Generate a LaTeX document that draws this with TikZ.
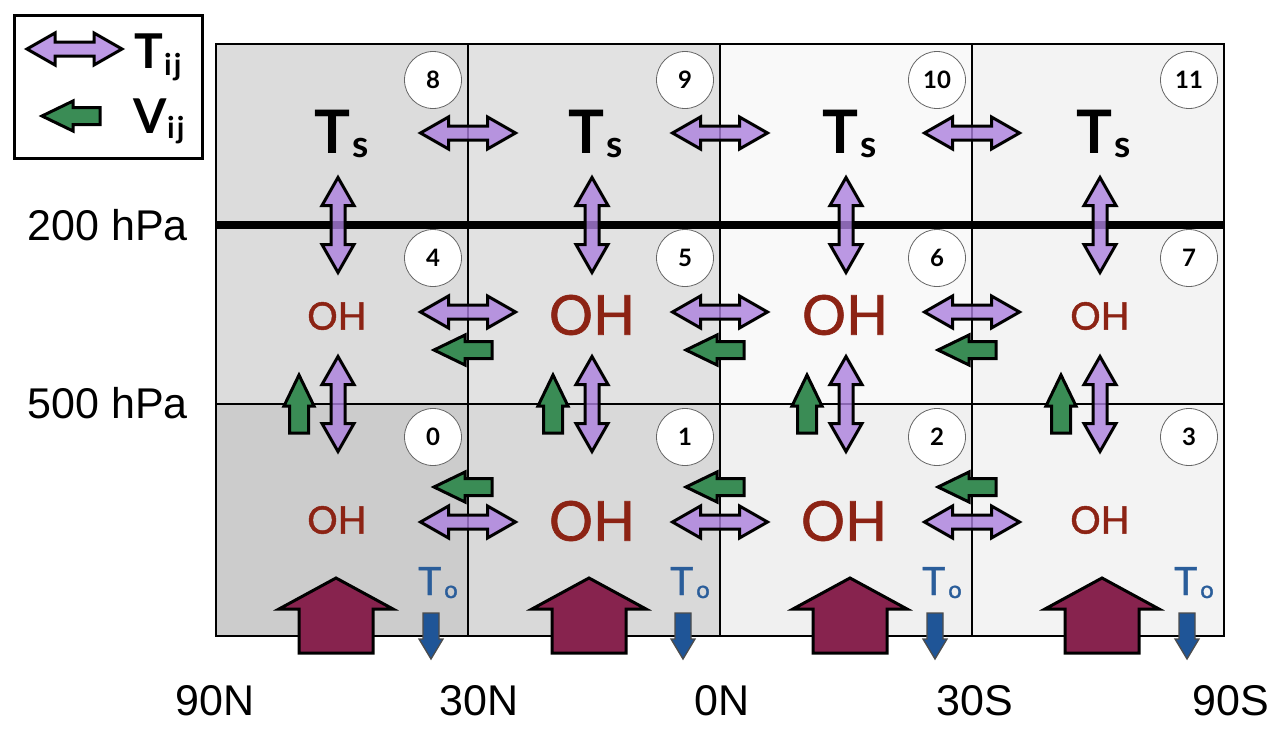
\documentclass[tikz,border=0pt]{standalone}
\usepackage{fontspec}
\setmainfont{Liberation Sans}
\newfontfamily\gill{Lato}
\newfontfamily\gillmed[FakeBold=1.2]{Lato}
\definecolor{purpfill}{RGB}{172,128,222}
\definecolor{grnfill}{RGB}{58,140,85}
\definecolor{marfill}{RGB}{135,35,78}
\definecolor{bluefill}{RGB}{31,85,151}
\definecolor{ohred}{RGB}{140,35,20}
\definecolor{toblue}{RGB}{42,93,154}
\definecolor{c0a}{RGB}{220,220,220}
\definecolor{c0c}{RGB}{204,204,204}
\definecolor{c1a}{RGB}{226,226,226}
\definecolor{c1c}{RGB}{217,217,217}
\definecolor{c2a}{RGB}{249,249,249}
\definecolor{c2c}{RGB}{240,240,240}
\definecolor{c3a}{RGB}{243,243,243}
\tikzset{
  arr/.style={draw=black, line width=3pt, line join=miter},
  purp/.style={arr, fill=purpfill, fill opacity=0.8},
  grn/.style={arr, fill=grnfill},
  mar/.style={arr, fill=marfill},
  blu/.style={draw=black!70, line width=1.3pt, fill=bluefill},
  hdbl/.pic={\path[purp] (-47.5,0) -- (-19.5,-16) -- (-19.5,-7) -- (19.5,-7) -- (19.5,-16) -- (47.5,0) -- (19.5,16) -- (19.5,7) -- (-19.5,7) -- (-19.5,16) -- cycle;},
  vdbl/.pic={\path[purp] (0,-47.5) -- (-16,-19.5) -- (-7,-19.5) -- (-7,19.5) -- (-16,19.5) -- (0,47.5) -- (16,19.5) -- (7,19.5) -- (7,-19.5) -- (16,-19.5) -- cycle;},
  gleft/.pic={\path[grn] (0,0) -- (31,-15) -- (31,-8.5) -- (58,-8.5) -- (58,8.5) -- (31,8.5) -- (31,15) -- cycle;},
  gup/.pic={\path[grn] (0,0) -- (15,31) -- (9.5,31) -- (9.5,58) -- (-9.5,58) -- (-9.5,31) -- (-15,31) -- cycle;},
  mup/.pic={\path[mar] (0,0) -- (57,31) -- (37,31) -- (37,75) -- (-37,75) -- (-37,31) -- (-57,31) -- cycle;},
  bdown/.pic={\path[blu] (-8,0) -- (8,0) -- (8,26) -- (12,26) -- (0,46) -- (-12,26) -- (-8,26) -- cycle;},
  numc/.style={circle, draw=black!60, line width=0.8pt, fill=white, minimum size=57pt, inner sep=0pt,
    font=\gill\bfseries\fontsize{24}{24}\selectfont},
  bigT/.style={anchor=base west, inner sep=0pt, font=\gill\bfseries\fontsize{60}{60}\selectfont},
  subs/.style={anchor=base west, inner sep=0pt, font=\gill\bfseries\fontsize{37}{37}\selectfont},
  ohs/.style={inner sep=0pt, text=ohred, font=\gillmed\fontsize{38}{38}\selectfont},
  ohl/.style={inner sep=0pt, text=ohred, font=\gillmed\fontsize{55}{55}\selectfont},
  toT/.style={anchor=base west, inner sep=0pt, text=toblue, font=\gillmed\fontsize{39}{39}\selectfont},
  too/.style={anchor=base west, inner sep=0pt, text=toblue, font=\gillmed\fontsize{24}{24}\selectfont},
  axlab/.style={inner sep=0pt, font=\fontsize{43}{43}\selectfont},
  leglab/.style={anchor=base west, inner sep=0pt, font=\gill\bfseries\fontsize{48}{48}\selectfont},
  legsub/.style={anchor=base west, inner sep=0pt, font=\gill\bfseries\fontsize{30}{30}\selectfont},
}
\begin{document}
\begin{tikzpicture}[x=1pt, y=-1pt]
\useasboundingbox (0,0) rectangle (1279,729);
% cell fills
\fill[c0a] (216,44) rectangle (468,404);
\fill[c0c] (216,404) rectangle (468,636);
\fill[c1a] (468,44) rectangle (720,404);
\fill[c1c] (468,404) rectangle (720,636);
\fill[c2a] (720,44) rectangle (972,404);
\fill[c2c] (720,404) rectangle (972,636);
\fill[c3a] (972,44) rectangle (1224,636);
% grid
\draw[line width=2pt] (468,44) -- (468,636) (720,44) -- (720,636) (972,44) -- (972,636);
\draw[line width=2pt] (216,404) -- (1224,404);
\draw[line width=8pt] (216,225) -- (1224,225);
\draw[line width=2.6pt] (216,44) rectangle (1224,636);
% numbers
\foreach \k in {0,...,3}{
  \pgfmathtruncatemacro{\nt}{8+\k}
  \pgfmathtruncatemacro{\nm}{4+\k}
  \node[numc] (ntop\k) at (433+252*\k,80) {\nt};
  \node[numc] (nmid\k) at (433+252*\k,258) {\nm};
  \node[numc] (nbot\k) at (433+252*\k,437) {\k};
}
% horizontal arrows between cells
\foreach \b in {468,720,972}{
  \pic at (\b,133) {hdbl};
  \pic at (\b,312) {hdbl};
  \pic at (\b-34,350) {gleft};
  \pic at (\b-34,487) {gleft};
  \pic at (\b,522) {hdbl};
}
% vertical arrows and bottom arrows
\foreach \k in {0,...,3}{
  \pic at (338+254*\k,225) {vdbl};
  \pic at (338+254*\k,404) {vdbl};
  \pic at (299+254*\k,375) {gup};
  \pic at (431+252*\k,613) {bdown};
}
\pic at (336,578) {mup};
\pic at (589,578) {mup};
\pic at (850,578) {mup};
\pic at (1102,578) {mup};
% T_s and T_o labels
\foreach \k in {0,...,3}{
  \node[bigT] (tsT\k) at (314+254*\k,153) {T};
  \node[subs] (tss\k) at (352+254*\k,157) {s};
  \node[toT] (toT\k) at (418+252*\k,595) {T};
  \node[too] (too\k) at (444+252*\k,598) {o};
}
% OH labels
\node[ohs] (oh4) at (337,316) {OH};
\node[ohl] (oh5) at (592,315) {OH};
\node[ohl] (oh6) at (845,315) {OH};
\node[ohs] (oh7) at (1100,316) {OH};
\node[ohs] (oh0) at (337,520) {OH};
\node[ohl] (oh1) at (592,521) {OH};
\node[ohl] (oh2) at (844,521) {OH};
\node[ohs] (oh3) at (1100,520) {OH};
% pressure labels
\node[axlab, anchor=east] (p200) at (188,225) {200 hPa};
\node[axlab, anchor=east] (p500) at (188,403) {500 hPa};
% latitude labels
\node[axlab, anchor=base] (l90n) at (215,715) {90N};
\node[axlab, anchor=base] (l30n) at (479,715) {30N};
\node[axlab, anchor=base] (l0n) at (722,715) {0N};
\node[axlab, anchor=base] (l30s) at (975,715) {30S};
\node[axlab, anchor=base] (l90s) at (1231,715) {90S};
% legend
\node[draw=black, line width=3pt, minimum width=188pt, minimum height=143pt, inner sep=0pt] (legend) at (108,86.5) {};
\pic at (74.5,49) {hdbl};
\pic at (42,116) {gleft};
\node[leglab] (legT) at (134,68) {T};
\node[legsub] (legTij) at (164,75) {i\hspace{2pt}j};
\node[leglab] (legV) at (133,133) {V};
\node[legsub] (legVij) at (167,138) {i\hspace{2pt}j};
\end{tikzpicture}
\end{document}
